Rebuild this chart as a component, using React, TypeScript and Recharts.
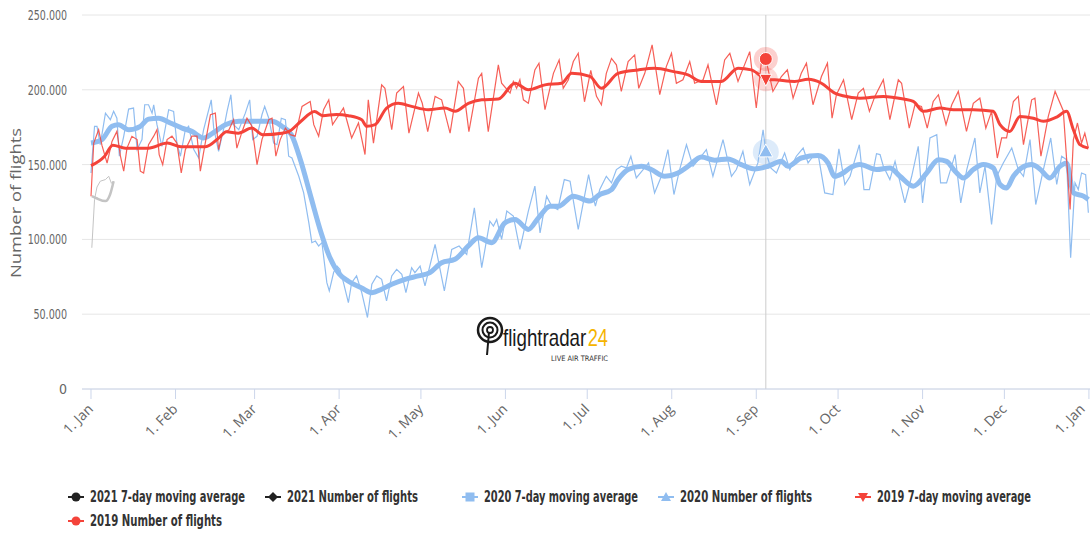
import React from "react";
import { CartesianGrid, Line, LineChart, ReferenceDot, ReferenceLine, XAxis, YAxis } from "recharts";

// x = day of year (0 = 1 Jan), y = flights in thousands
const monthTicks = [0, 31, 60, 91, 121, 152, 182, 213, 244, 274, 305, 335, 366];
const monthLabels = ["1. Jan", "1. Feb", "1. Mar", "1. Apr", "1. May", "1. Jun", "1. Jul", "1. Aug", "1. Sep", "1. Oct", "1. Nov", "1. Dec", "1. Jan"];
const valueTicks = [0, 50, 100, 150, 200, 250];

const flights2019: [number, number][] = [
    [0, 128.9], [1, 164.4], [2.8, 173.3], [4, 163], [5.9, 151], [7.7, 165.5], [9.5, 172.2], [10.8, 155.6],
    [12, 145.6], [13.2, 161], [15, 168.9], [16.9, 166.7], [18.1, 145.6], [19.3, 144.4], [21.1, 163.3], [23, 169],
    [24.2, 173.3], [25, 156.7], [26.3, 150], [27.9, 166.7], [29.7, 169], [31.5, 164.4], [33.1, 144.4], [34.6, 160],
    [37, 169], [38.9, 169], [40.1, 145.6], [41.9, 164.4], [43.8, 183.3], [45.6, 184.4], [46.8, 160], [48, 170],
    [50.6, 173.3], [52.3, 180], [53.5, 161], [55.4, 172], [57.2, 181], [59, 175.6], [60.9, 150], [62.7, 166.7],
    [65.2, 180], [66.4, 181], [67.8, 155.6], [69.4, 166.7], [71.3, 174.4], [73.1, 170], [74.9, 169], [77.4, 188.9],
    [80.4, 192.2], [81.7, 176.7], [83.5, 169], [85.3, 186.7], [87.2, 193.3], [88.6, 176.7], [90.5, 182], [92.6, 187.8],
    [95.6, 167.8], [98.1, 177.8], [100.5, 156.7], [101.7, 193.3], [103.6, 164.4], [106.6, 203.3], [107.8, 201], [110.3, 173.3],
    [112.1, 197.8], [114.6, 202.2], [116.6, 171], [120.1, 197.8], [121.5, 191], [123.5, 172], [126.2, 195.6], [128.6, 193.3],
    [131.7, 171], [134.7, 205.6], [136.6, 201], [138.6, 172], [142.1, 207.8], [143.3, 211], [145.7, 172], [149.4, 216.7],
    [150.6, 204.4], [153.7, 197.8], [154.9, 205.6], [156.1, 201], [157.3, 206.7], [158.6, 193.3], [160.4, 191], [162.8, 213.3],
    [164.3, 217.8], [166.5, 186.7], [169.6, 211], [171.7, 220], [173.2, 201], [175.1, 206.7], [176.9, 218.9], [178.7, 224.4],
    [181, 192], [183.3, 213], [185.4, 195.6], [187.2, 190], [189, 211], [190.9, 221], [192.7, 216.7], [194.5, 198.9],
    [197, 218.9], [199.4, 223.3], [200.9, 201], [203.1, 211], [205.8, 230], [208.6, 196.7], [211, 215.5], [212.9, 224.4],
    [214.7, 204.4], [217.1, 206.7], [219.6, 218.9], [221.4, 204.4], [224.5, 206.7], [226.3, 216.7], [229.4, 190], [232.4, 220],
    [234.3, 224.4], [237.3, 205.6], [241.6, 225.5], [244, 187.8], [245.9, 218.9], [247.5, 220.6], [250.1, 198.9], [253.2, 208.9],
    [255.4, 213.3], [257.5, 194.4], [260.5, 211], [262.4, 217.8], [264.8, 190], [267.9, 208.9], [270.1, 217.8], [271.8, 181],
    [273.4, 196.7], [276, 206.7], [279, 180], [281.4, 197.8], [283.3, 201], [285.5, 185.6], [287.5, 195.6], [290.6, 206.7],
    [293, 180], [296.1, 206.7], [297.3, 204.4], [300.1, 174.4], [302.2, 190], [304.6, 188.9], [306.7, 174.4], [308.9, 192.2],
    [310.8, 196.7], [313.6, 176.7], [315.7, 190], [318.1, 198.9], [321.1, 172.2], [323.6, 191], [326, 194.4], [328.2, 174.4],
    [330.3, 185.6], [332.4, 154.4], [334, 167.8], [335.8, 167.8], [338.3, 192.2], [340.1, 195.6], [342, 163.3], [345, 193.3],
    [346.2, 194.4], [348.4, 155.6], [351.1, 182.2], [353.6, 198.9], [356.6, 186], [359.1, 120], [360.3, 166.7], [361.8, 177.8],
    [363.3, 164.4], [364.5, 171], [365.8, 161],
];

const average2019: [number, number][] = [
    [0, 149.3], [5, 155.6], [8, 163], [12.6, 161], [21, 161], [28, 164.4], [33, 162], [42, 162],
    [47, 168], [49.6, 172], [54, 171], [59, 174.4], [63, 170], [70, 171], [72.5, 172], [77, 179],
    [82, 185.5], [85, 182.7], [90, 183.5], [94.4, 182.7], [99.3, 180], [101.1, 175.6], [104.2, 176.7], [108.4, 187.8],
    [112.7, 191], [117.6, 188.9], [123.7, 186.7], [129.8, 187.8], [133.5, 185.6], [138.4, 191], [143.3, 193.3], [149.4, 193.8],
    [155.5, 204.4], [160.4, 200], [166.5, 203.3], [172.6, 204.4], [176.3, 211], [183, 209], [187.2, 201], [193.3, 211],
    [200.6, 213.3], [206.7, 214.4], [214.1, 212], [219, 210], [223.9, 205.6], [231.2, 205.6], [237.3, 214.4], [242.2, 213.3],
    [245.9, 208.9], [247.5, 207], [250.8, 206.7], [258.1, 205.6], [263, 207], [267.9, 204.4], [272.8, 197.8], [275.8, 196],
    [282, 194.4], [290.6, 195.6], [298, 193.8], [301.6, 192.2], [305.3, 185.6], [311.4, 187.8], [316.3, 186.7], [323.6, 186.7],
    [330.9, 185.6], [333.4, 176.7], [337, 172.2], [340.7, 182.2], [345.6, 181], [349.3, 179], [354.2, 181.8], [357.8, 185.6],
    [360.3, 173.3], [362.7, 163.3], [365.8, 161],
];

const flights2020: [number, number][] = [
    [0, 144.4], [1.3, 175.6], [2.2, 175.6], [3.4, 163.3], [5.3, 184.4], [7.1, 180], [8.3, 185.6], [9.5, 181],
    [10.4, 155.6], [12, 168.9], [13.8, 187.1], [15.6, 187.8], [16.9, 160], [18.7, 166.7], [19.7, 190], [21.1, 190],
    [22.4, 184.4], [23, 190], [24.2, 176.7], [26, 162.2], [28.5, 186.7], [30.3, 185.6], [31.5, 164.4], [32.8, 155.6],
    [34.6, 173.3], [35.8, 175.6], [37.7, 160], [39.5, 154.4], [41.3, 173.3], [44.1, 193.3], [45, 174.4], [46.8, 158.9],
    [48.6, 173.3], [49.9, 185.6], [51.3, 196.7], [52.3, 176.7], [54.2, 173.3], [56.6, 184.4], [58.2, 193.3], [59.3, 166.7],
    [60.9, 168.9], [62.7, 183.3], [63.7, 188.9], [65.2, 181], [67, 164.4], [68.2, 163.3], [69.8, 181], [71.3, 180],
    [72.5, 155.6], [73.7, 154.4], [76.2, 142.2], [78, 131.1], [79.9, 111.1], [81, 97.8], [82.3, 98.9], [83.5, 95.6],
    [84.7, 97.8], [86.5, 71.1], [87.4, 65.6], [89, 78], [90.3, 82], [91.3, 80], [92.6, 71.1], [94.4, 57.8],
    [95.6, 71.1], [97.4, 75.6], [99.3, 64.4], [101.4, 47.8], [103, 70], [104.8, 75.6], [106.6, 73.3], [108.4, 58.9],
    [110.3, 75.6], [112.1, 80], [114, 76.7], [115.5, 64.4], [117.6, 81.1], [118.8, 77.8], [120.7, 82.2], [122.5, 68.9],
    [126.2, 96.7], [129.6, 65.6], [132.3, 93.3], [135, 95.6], [137.8, 90], [140.6, 121.1], [143.3, 81.1], [146.3, 112.2],
    [147.6, 108.9], [148.8, 113.3], [150.6, 100], [152.5, 118.9], [154.9, 115.6], [157.3, 93.3], [160.4, 118.9], [162.8, 135.6],
    [164.7, 104.4], [167.1, 128.9], [169, 122.2], [171.2, 120], [173.6, 140], [175.7, 138.9], [178.7, 106.7], [182.5, 143.3],
    [184.1, 128.9], [185, 122.2], [186.6, 133.3], [189, 142.2], [190.9, 137.8], [192.7, 146.7], [194.5, 148.9], [196.4, 147.8],
    [198, 155.6], [200, 141.1], [202.5, 146.7], [204.5, 151.1], [206.7, 131.1], [209.2, 142.2], [211.6, 160], [213.8, 130],
    [215.9, 146.7], [218.4, 163.3], [220.8, 148.9], [223.3, 154.4], [225.7, 160], [228.1, 142.2], [231.8, 166.7], [234.9, 142.2],
    [236.7, 146.7], [239.1, 158.9], [241.6, 136.7], [244.6, 151.1], [246.5, 173.3], [247.5, 158.5], [249.3, 147.8], [251.4, 144.4],
    [254.4, 157.8], [256.3, 146.7], [258.7, 155.6], [261.2, 161.1], [263, 151.1], [264.8, 155.6], [266.7, 156.7], [269.1, 131.1],
    [272.1, 130], [274.3, 160.5], [276.5, 136.7], [278.4, 142.2], [281.8, 163.3], [283.5, 133.3], [285.5, 133.3], [288.1, 157.3],
    [289.4, 156.7], [290.6, 148.9], [293, 140], [294.9, 152.2], [298.5, 124.4], [301, 142.2], [303.4, 162.2], [305, 124.4],
    [307.7, 167.8], [310.2, 170], [311.6, 137.8], [313.8, 137.8], [316.9, 156.7], [319, 124.4], [321.2, 146.7], [324.2, 167.8],
    [326, 131.1], [327.9, 148.9], [330.3, 110], [332.2, 142.2], [334.6, 151.1], [337.7, 161.1], [340.1, 146.7], [342, 142.2],
    [344.4, 166.7], [346.5, 123.3], [349.3, 146.7], [352, 167.8], [354.2, 136.7], [356, 155.6], [357.8, 153.3], [359.3, 87.8],
    [360.9, 137.8], [362.1, 133.3], [363.3, 144.4], [364.8, 143.3], [365.8, 117.8],
];

const average2020: [number, number][] = [
    [0, 164.4], [4, 166.7], [7.7, 175.6], [10.1, 176.7], [13.8, 173.3], [18.1, 175.6], [21.1, 180.4], [24.8, 181],
    [29.1, 177.8], [33.4, 174.4], [37, 172.2], [41.3, 167.8], [45.6, 172.2], [49.3, 176.7], [54.2, 178.9], [61.5, 178.9],
    [66.4, 178.9], [70, 175.6], [73.5, 170], [77, 152], [80.7, 128], [84.3, 105], [87.7, 87.5], [91, 77],
    [94.4, 72], [99.3, 67.5], [103, 64.4], [106.6, 66.7], [110.3, 70], [115.2, 73.3], [120.1, 75.6], [124.3, 77.8],
    [128.6, 84.4], [133.5, 86.7], [138.4, 95.6], [142.1, 101.1], [147, 97.8], [151.8, 111.1], [155.5, 113.3], [160.4, 106.7],
    [164.1, 114.4], [168.4, 122.2], [171.4, 122.2], [176.9, 128.9], [183, 125.6], [186.6, 130], [190.9, 133.3], [193.3, 140],
    [197, 146.7], [201.9, 148.9], [205.5, 146.7], [210.4, 142.2], [215.3, 144.4], [219, 148.9], [223.9, 155.1], [228.8, 152.9],
    [233.6, 153.8], [238.5, 150], [243.4, 147.1], [248.3, 148.9], [253.2, 152.2], [255.6, 148.9], [260.5, 154.4], [266.7, 156],
    [270.3, 151.1], [272.8, 142.2], [275.5, 144], [278.4, 147.8], [282, 150], [288.1, 146.7], [293, 147.8], [296.7, 142.2],
    [301.6, 135.6], [306.5, 144.4], [310.8, 153.3], [313.8, 152.2], [316.9, 145.6], [320, 141.1], [323.6, 146.7], [327.3, 150],
    [330.9, 147.8], [333.4, 136.7], [335.8, 134.4], [338.3, 142.2], [341.3, 147.8], [345, 150], [348, 147.1], [351.7, 141.1],
    [355.4, 148.9], [357.8, 151.1], [360.3, 131.1], [364, 128.9], [365.8, 126.7],
];

const flights2021: [number, number][] = [
    [0.3, 94.4], [1.3, 126.7], [2.2, 135], [3.4, 138.9], [5.3, 140], [6.5, 142.2], [7.5, 137.5], [8.3, 139],
];

const average2021: [number, number][] = [
    [0.3, 128.9], [2, 127.5], [5.3, 125.6], [7, 130], [8.3, 138.9],
];

const hoverDay = 247.5;
const hover2019 = 220.6;
const hoverAvg2019 = 207;
const hover2020 = 158.5;

const RED = "#f4433a";
const BLUE = "#90bdf0";
const GREY = "#c4c4c4";
const NARROW = "'Liberation Sans Narrow', 'DejaVu Sans Condensed', 'Open Sans', sans-serif";

const toRows = (pairs: [number, number][]) => pairs.map(([d, v]) => ({ d, v }));

function MonthTick(props: any) {
    const { x, y, payload } = props;
    const i = monthTicks.indexOf(payload.value);
    // the last label sits against the right edge, pull it in a little
    const tx = i === monthTicks.length - 1 ? x - 3 : x + 3;
    const ty = y + 9;
    return (
        <text x={tx} y={ty} transform={`rotate(-45 ${tx} ${ty})`} textAnchor="end" fill="#666" fontSize={14} fontFamily="'Open Sans', sans-serif">
            {monthLabels[i]}
        </text>
    );
}

function ValueTick(props: any) {
    const { y, payload } = props;
    const label = payload.value === 0 ? "0" : `${payload.value}.000`;
    return (
        <text
            x={67}
            y={y + 5}
            textAnchor="end"
            fill="#666"
            fontSize={14}
            fontFamily={NARROW}
            textLength={label.length > 1 ? label.length * 5.6 : undefined}
            lengthAdjust="spacingAndGlyphs"
        >
            {label}
        </text>
    );
}

function CircleMarker({ cx, cy }: any) {
    return (
        <g>
            <circle cx={cx} cy={cy} r={12} fill={RED} fillOpacity={0.25} />
            <circle cx={cx} cy={cy} r={6.5} fill={RED} stroke="#fff" strokeWidth={1} />
        </g>
    );
}

function TriangleDownMarker({ cx, cy }: any) {
    return (
        <g>
            <circle cx={cx} cy={cy} r={12} fill={RED} fillOpacity={0.2} />
            <path d={`M${cx - 6},${cy - 5} L${cx + 6},${cy - 5} L${cx},${cy + 7} Z`} fill={RED} stroke="#fff" strokeWidth={1} />
        </g>
    );
}

function TriangleUpMarker({ cx, cy }: any) {
    return (
        <g>
            <circle cx={cx} cy={cy} r={13} fill={BLUE} fillOpacity={0.3} />
            <path d={`M${cx},${cy - 8} L${cx + 7},${cy + 5} L${cx - 7},${cy + 5} Z`} fill={BLUE} stroke="#fff" strokeWidth={1} />
        </g>
    );
}

const legendItems = [
    { label: "2021 7-day moving average", color: "#222", symbol: "circle", x: 68, y: 497, w: 155 },
    { label: "2021 Number of flights", color: "#222", symbol: "diamond", x: 265, y: 497, w: 131 },
    { label: "2020 7-day moving average", color: BLUE, symbol: "square", x: 462, y: 497, w: 154 },
    { label: "2020 Number of flights", color: BLUE, symbol: "triangle", x: 658, y: 497, w: 132 },
    { label: "2019 7-day moving average", color: RED, symbol: "triangle-down", x: 855, y: 497, w: 154 },
    { label: "2019 Number of flights", color: RED, symbol: "circle", x: 68, y: 521, w: 132 },
];

function LegendSymbol({ kind, cx, cy, color }: { kind: string; cx: number; cy: number; color: string }) {
    if (kind === "circle") return <circle cx={cx} cy={cy} r={4.5} fill={color} />;
    if (kind === "diamond") return <path d={`M${cx},${cy - 5} L${cx + 5},${cy} L${cx},${cy + 5} L${cx - 5},${cy} Z`} fill={color} />;
    if (kind === "square") return <rect x={cx - 4.5} y={cy - 4.5} width={9} height={9} fill={color} />;
    if (kind === "triangle") return <path d={`M${cx},${cy - 5} L${cx + 5},${cy + 4} L${cx - 5},${cy + 4} Z`} fill={color} />;
    return <path d={`M${cx - 5},${cy - 4} L${cx + 5},${cy - 4} L${cx},${cy + 5} Z`} fill={color} />;
}

export default function App() {
    return (
        <div style={{ position: "absolute", left: 0, top: 0, width: 1090, height: 536, background: "#fff" }}>
            <LineChart width={1090} height={480} margin={{ top: 15, right: 0, bottom: 31, left: 0 }}>
                <CartesianGrid horizontal vertical={false} stroke="#e6e6e6" />
                <XAxis
                    type="number"
                    dataKey="d"
                    domain={[-3.3, 366.4]}
                    allowDataOverflow
                    ticks={monthTicks}
                    interval={0}
                    height={60}
                    stroke="#ccd6eb"
                    tickSize={10}
                    tickMargin={2}
                    tick={<MonthTick />}
                />
                <YAxis
                    type="number"
                    domain={[0, 250]}
                    ticks={valueTicks}
                    width={82}
                    axisLine={false}
                    tickLine={false}
                    tick={<ValueTick />}
                />
                <ReferenceLine x={hoverDay} stroke="#cccccc" strokeWidth={1} />
                <Line data={toRows(average2021)} dataKey="v" type="monotone" stroke={GREY} strokeWidth={2.5} dot={false} activeDot={false} isAnimationActive={false} />
                <Line data={toRows(flights2021)} dataKey="v" type="linear" stroke={GREY} strokeWidth={1} dot={false} activeDot={false} isAnimationActive={false} />
                <Line data={toRows(average2020)} dataKey="v" type="monotone" stroke={BLUE} strokeWidth={5} dot={false} activeDot={false} isAnimationActive={false} />
                <Line data={toRows(flights2020)} dataKey="v" type="linear" stroke={BLUE} strokeWidth={1.2} dot={false} activeDot={false} isAnimationActive={false} />
                <Line data={toRows(average2019)} dataKey="v" type="monotone" stroke={RED} strokeWidth={3} dot={false} activeDot={false} isAnimationActive={false} />
                <Line data={toRows(flights2019)} dataKey="v" type="linear" stroke={RED} strokeOpacity={0.85} strokeWidth={1.2} dot={false} activeDot={false} isAnimationActive={false} />
                <ReferenceDot x={hoverDay} y={hover2020} shape={<TriangleUpMarker />} />
                <ReferenceDot x={hoverDay} y={hoverAvg2019} shape={<TriangleDownMarker />} />
                <ReferenceDot x={hoverDay} y={hover2019} shape={<CircleMarker />} />
            </LineChart>
            <svg width={1090} height={536} style={{ position: "absolute", left: 0, top: 0, pointerEvents: "none" }}>
                <text transform="translate(21,203) rotate(-90)" textAnchor="middle" fill="#666" fontSize={15} fontFamily="'Open Sans', sans-serif" textLength={150} lengthAdjust="spacingAndGlyphs">
                    Number of flights
                </text>
                <g>
                    <circle cx={490} cy={330} r={12} fill="none" stroke="#1a1a1a" strokeWidth={2.5} />
                    <circle cx={490} cy={330} r={7.5} fill="none" stroke="#1a1a1a" strokeWidth={2} />
                    <circle cx={490} cy={330} r={3} fill="none" stroke="#1a1a1a" strokeWidth={1.8} />
                    <line x1={489} y1={332} x2={487} y2={355} stroke="#1a1a1a" strokeWidth={2} />
                    <g transform="translate(503,346) scale(0.75,1)">
                        <text x={0} y={0} fill="#1a1a1a" fontSize={24} fontFamily="'Liberation Sans', sans-serif" textLength={111} lengthAdjust="spacingAndGlyphs">flightradar</text>
                        <text x={113} y={0} fill="#f5b400" fontSize={24} fontFamily="'Liberation Sans', sans-serif" textLength={27} lengthAdjust="spacingAndGlyphs">24</text>
                    </g>
                    <text x={551} y={361} fill="#333" fontSize={7.5} fontFamily={NARROW} textLength={57} lengthAdjust="spacingAndGlyphs">LIVE AIR TRAFFIC</text>
                </g>
                {legendItems.map((item) => (
                    <g key={item.label}>
                        <line x1={item.x} y1={item.y} x2={item.x + 16} y2={item.y} stroke={item.color} strokeWidth={2} />
                        <LegendSymbol kind={item.symbol} cx={item.x + 8} cy={item.y} color={item.color} />
                        <text x={item.x + 22} y={item.y + 5} fill="#333" fontSize={15} fontWeight="bold" fontFamily={NARROW} textLength={item.w} lengthAdjust="spacingAndGlyphs">
                            {item.label}
                        </text>
                    </g>
                ))}
            </svg>
        </div>
    );
}
